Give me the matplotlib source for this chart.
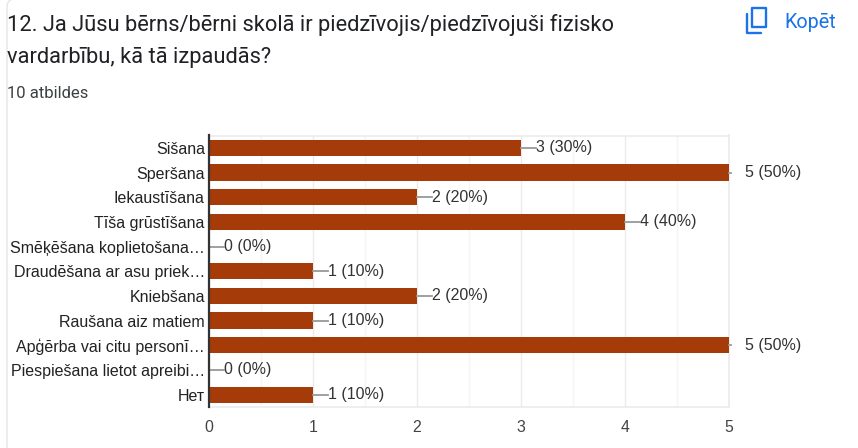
import matplotlib
matplotlib.use("Agg")
import matplotlib.pyplot as plt
from matplotlib.patches import FancyBboxPatch, Rectangle

categories = ["Sišana", "Speršana", "Iekaustīšana", "Tīša grūstīšana",
              "Smēķēšana koplietošana…", "Draudēšana ar asu priek…", "Kniebšana",
              "Raušana aiz matiem", "Apģērba vai citu personī…",
              "Piespiešana lietot apreibi…", "Нет"]
values = [3, 5, 2, 4, 0, 1, 2, 1, 5, 0, 1]
percents = [30, 50, 20, 40, 0, 10, 20, 10, 50, 0, 10]
xticks = [0, 1, 2, 3, 4, 5]
title_lines = ["12. Ja Jūsu bērns/bērni skolā ir piedzīvojis/piedzīvojuši fizisko",
               "vardarbību, kā tā izpaudās?"]
subtitle = "10 atbildes"
copy_label = "Kopēt"

W, H = 858, 448
plt.rcParams['font.family'] = ['Liberation Sans', 'DejaVu Sans']
fig = plt.figure(figsize=(W/100, H/100), dpi=100, facecolor="white")

bg = fig.add_axes([0, 0, 1, 1])
bg.set_xlim(0, W); bg.set_ylim(H, 0); bg.axis("off")
bg.add_patch(FancyBboxPatch((7, -1), 900, 520, boxstyle="round,pad=0,rounding_size=8",
                            fc="white", ec="#e6e6e6", lw=1.0))
bg.text(7, 25, title_lines[0], fontsize=15.75, family="Roboto", color="#202124", va="center")
bg.text(7, 57, title_lines[1], fontsize=15.75, family="Roboto", color="#202124", va="center")
bg.text(7, 93, subtitle, fontsize=12.0, family="Roboto", color="#3c4043", va="center")
bg.text(784, 22, copy_label, fontsize=14.2, family="Roboto", color="#1a73e8", va="center")
bg.add_patch(Rectangle((752, 8.5), 14, 19, fc="none", ec="#1a73e8", lw=1.7, joinstyle="round"))
bg.plot([746.5, 746.5, 761], [14, 33, 33], color="#1a73e8", lw=1.7, solid_capstyle="round")

left, right, top, bottom = 209, 729, 135.5, 407
ax = fig.add_axes([left/W, 1-bottom/H, (right-left)/W, (bottom-top)/H])
ax.set_facecolor("none")
y = list(range(len(categories)))
ax.set_xlim(0, 5)
ax.set_ylim(len(categories)-0.5, -0.5)

for sp in ["top", "right"]:
    ax.spines[sp].set_color("#ebebeb"); ax.spines[sp].set_linewidth(1.2)
ax.spines["bottom"].set_color("#ebebeb"); ax.spines["bottom"].set_linewidth(1.2)
ax.spines["left"].set_color("#333333"); ax.spines["left"].set_linewidth(1.6)
ax.spines["left"].set_zorder(5)

ax.set_xticks(xticks)
ax.set_xticks([t + 0.5 for t in xticks[:-1]], minor=True)
ax.grid(True, axis="x", which="major", color="#ebebeb", lw=1.0, zorder=0)
ax.grid(True, axis="x", which="minor", color="#f4f4f4", lw=1.0, zorder=0)
ax.tick_params(axis="x", which="both", length=0, pad=9, labelsize=11.4, labelcolor="#444444")
ax.set_yticks(y)
ax.set_yticklabels(categories)
ax.tick_params(axis="y", length=0, pad=3, labelsize=11.5, labelcolor="#222222")

ax.barh(y, values, height=0.66, color="#a53b08", zorder=3)

px = 5 / (right - left)
for i, (v, p) in enumerate(zip(values, percents)):
    label = f"{v} ({p}%)"
    if v == 5:
        ax.plot([v, v + 2*px], [i, i], color="#999999", lw=1.3, zorder=4, clip_on=False)
        ax.text(v + 16*px, i, label, va="center", ha="left", fontsize=11.5, color="#333333", clip_on=False)
    else:
        ax.plot([v, v + 15*px], [i, i], color="#999999", lw=1.3, zorder=4)
        ax.text(v + 15.5*px, i, label, va="center", ha="left", fontsize=11.5, color="#333333")

fig.savefig("out.png", dpi=100)
